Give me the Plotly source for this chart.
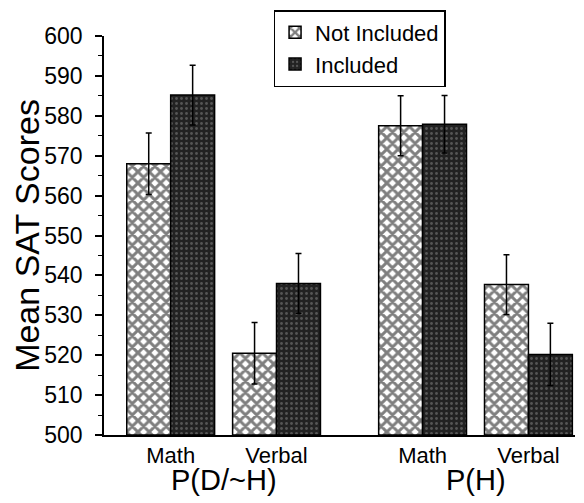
import plotly.graph_objects as go

groups = ["P(D/~H)", "P(H)"]
subjects = ["Math", "Verbal"]
series_names = ["Not Included", "Included"]
# values per series, in order: P(D/~H) Math, P(D/~H) Verbal, P(H) Math, P(H) Verbal
not_included = [568.0, 520.5, 577.5, 537.7]
included = [585.2, 538.0, 577.9, 520.2]
err_not_included = [7.7, 7.7, 7.5, 7.5]
err_included = [7.5, 7.5, 7.2, 7.8]
y_ticks = [500, 510, 520, 530, 540, 550, 560, 570, 580, 590, 600]

# layout: x positions of categories (groups separated by a wider gap)
group_gap = 1.38
xpos = []
xlab = []
for gi, g in enumerate(groups):
    for si, s in enumerate(subjects):
        xpos.append(gi * (1 + group_gap) + si)
        xlab.append(s)
group_centers = [gi * (1 + group_gap) + 0.5 for gi in range(len(groups))]

FONT = "Liberation Sans, Arial, Helvetica, sans-serif"

fig = go.Figure()
fig.add_trace(go.Bar(
    x=xpos, y=[v - 500 for v in not_included], base=500, name=series_names[0],
    marker=dict(color="white", line=dict(color="black", width=1.5),
                pattern=dict(shape="x", fgcolor="black", bgcolor="white", size=8, solidity=0.6)),
    error_y=dict(type="data", array=err_not_included, color="black", thickness=1.5, width=3),
))
fig.add_trace(go.Bar(
    x=xpos, y=[v - 500 for v in included], base=500, name=series_names[1],
    marker=dict(color="#2e2e2e", line=dict(color="black", width=1.5),
                pattern=dict(shape=".", fgcolor="#8a8a8a", bgcolor="#222222", size=5, solidity=0.25)),
    error_y=dict(type="data", array=err_included, color="black", thickness=1.5, width=3),
))

for gc, g in zip(group_centers, groups):
    fig.add_annotation(x=gc, y=-0.155, xref="x", yref="paper", text=g, showarrow=False,
                       font=dict(family=FONT, size=29, color="black"), yanchor="bottom",
                       borderpad=0)

fig.update_layout(
    width=576, height=495,
    margin=dict(l=96, r=9, t=28, b=68, autoexpand=False),
    paper_bgcolor="white", plot_bgcolor="white",
    barmode="group", bargap=0.17, bargroupgap=0,
    font=dict(family=FONT, color="black"),
    showlegend=True,
    legend=dict(x=0.36, y=1.065, xanchor="left", yanchor="top",
                bgcolor="white", bordercolor="black", borderwidth=1.5,
                font=dict(family=FONT, size=22, color="black"), traceorder="normal"),
    xaxis=dict(range=[-0.63, 3.82], tickvals=xpos, ticktext=xlab, showgrid=False,
               showline=True, linecolor="black", linewidth=1.5, ticks="", zeroline=False,
               automargin=False,
               tickfont=dict(family=FONT, size=22, color="black")),
    yaxis=dict(range=[500, 600], tickvals=y_ticks, showgrid=False, showline=True,
               linecolor="black", linewidth=1.5, ticks="outside", ticklen=7, tickwidth=1.5,
               tickcolor="black", zeroline=False, ticklabelstandoff=8, automargin=False,
               minor=dict(dtick=5, ticks="outside", ticklen=4, tickcolor="black", tickwidth=1),
               tickfont=dict(family=FONT, size=23, color="black"),
               title=dict(text="Mean SAT Scores", font=dict(family=FONT, size=34, color="black"), standoff=14)),
)

fig.write_html("out.html")
